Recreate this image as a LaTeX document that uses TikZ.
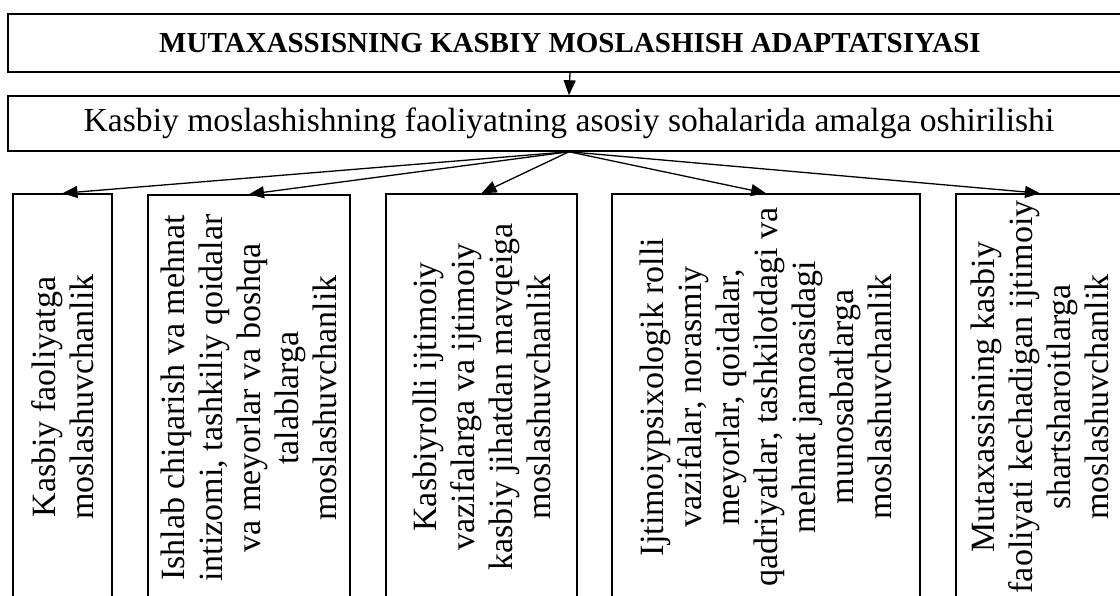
\documentclass[tikz,border=0pt]{standalone}
\usepackage{fontspec}
\setmainfont{Liberation Serif}
\usetikzlibrary{arrows.meta}

\begin{document}
\begin{tikzpicture}[x=1pt,y=-1pt,
    box/.style={draw,line width=1.5pt,inner sep=0pt},
    sidebox/.style={box,rotate=90,minimum width=406pt,align=center,font=\fontsize{34}{38}\selectfont},
    arr/.style={-{Triangle[length=15pt,width=12pt]},line width=1.3pt}]
    \useasboundingbox (0,0) rectangle (1120,595);
    \clip (0,0) rectangle (1120,595);

    % heading and the line under it
    \node[box,minimum width=1124pt,minimum height=58pt,font=\bfseries\fontsize{29}{34}\selectfont] (title) at (570,43) {MUTAXASSISNING KASBIY MOSLASHISH ADAPTATSIYASI};
    \node[box,minimum width=1122pt,minimum height=55pt,font=\fontsize{33.6}{38}\selectfont] (sub) at (569,123.5) {Kasbiy moslashishning faoliyatning asosiy sohalarida amalga oshirilishi};
    \draw[arr] (title.south) -- (sub.north);

    % the five areas
    \node[sidebox,minimum height=99pt] (k1) at (62.5,397) {Kasbiy faoliyatga\\moslashuvchanlik};
    \node[sidebox,minimum height=202pt] (k2) at (249,398) {Ishlab chiqarish va mehnat\\intizomi, tashkiliy qoidalar\\va meyorlar va boshqa\\talablarga\\moslashuvchanlik};
    \node[sidebox,minimum height=191pt] (k3) at (481.5,397) {Kasbiyrolli ijtimoiy\\vazifalarga va ijtimoiy\\kasbiy jihatdan mavqeiga\\moslashuvchanlik};
    \node[sidebox,minimum height=308pt] (k4) at (766,397) {Ijtimoiypsixologik rolli\\vazifalar, norasmiy\\meyorlar, qoidalar,\\qadriyatlar, tashkilotdagi va\\mehnat jamoasidagi\\munosabatlarga\\moslashuvchanlik};
    \node[sidebox,minimum height=168pt] (k5) at (1040,397) {Mutaxassisning kasbiy\\faoliyati kechadigan ijtimoiy\\shartsharoitlarga\\moslashuvchanlik};

    \foreach \k in {k1,k2,k3,k4,k5}
        \draw[arr] (sub.south) -- (\k.east);
\end{tikzpicture}
\end{document}
